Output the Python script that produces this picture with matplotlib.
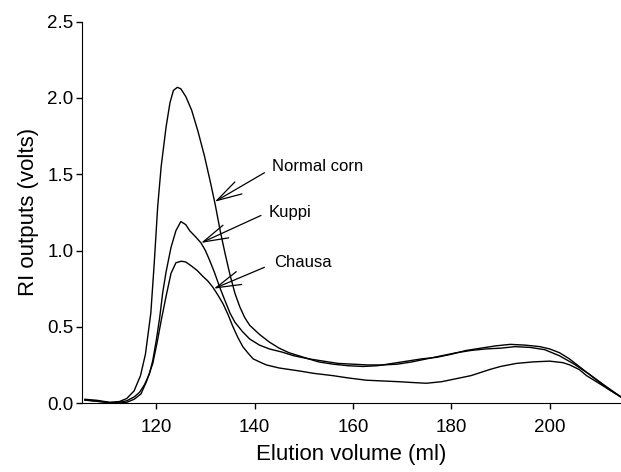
import matplotlib
matplotlib.use("Agg")
import matplotlib.pyplot as plt

plt.rcParams['font.family'] = ['Liberation Sans', 'DejaVu Sans']

# Normal corn
nc_x = [105.5, 108, 110.5, 112.5, 114, 115.5, 116.8, 117.8, 118.9, 119.6, 120.3, 121.0, 122.0, 122.8, 123.5,
        124.3, 125.0, 126.0, 127.2, 128.5, 129.8, 131.0, 132.0, 133.0, 134.0, 135.0, 136.0, 137.0, 138.0,
        139.0, 141.0, 143.0, 145.0, 147.0, 150.0, 153.0, 156.0, 159.0, 162.0, 165.0, 168.0, 171.0, 174.0,
        177.0, 180.0, 183.0, 186.0, 189.0, 192.0, 195.0, 198.0, 200.0, 202.0, 204.0, 206.0, 208.0, 210.0,
        212.0, 214.5]
nc_y = [0.025, 0.018, 0.005, 0.01, 0.03, 0.08, 0.18, 0.32, 0.59, 0.92, 1.29, 1.55, 1.81, 1.97, 2.05,
        2.07, 2.06, 2.01, 1.92, 1.78, 1.62, 1.45, 1.30, 1.13, 0.98, 0.84, 0.72, 0.63, 0.56,
        0.51, 0.45, 0.40, 0.36, 0.33, 0.30, 0.27, 0.255, 0.245, 0.24, 0.245, 0.26, 0.275, 0.29,
        0.30, 0.32, 0.345, 0.36, 0.375, 0.385, 0.38, 0.37, 0.355, 0.33, 0.29, 0.24, 0.19, 0.14,
        0.09, 0.04]

# Kuppi
kp_x = [105.5, 108, 110.5, 112.5, 114, 115.5, 116.6, 117.6, 118.6, 119.3, 120.0, 120.7, 121.3, 122.0,
        123.0, 124.0, 125.0, 126.0, 126.8, 128.0, 129.1, 130.0, 130.8, 131.8, 132.9, 134.0, 135.0, 136.0,
        137.5, 139.0, 141.0, 143.0, 145.5, 148.0, 151.0, 154.0, 157.0, 160.0, 163.0, 166.0, 169.0, 172.0,
        175.0, 178.0, 181.0, 184.0, 187.0, 190.0, 193.0, 196.0, 199.0, 202.0, 205.0, 208.0, 211.0, 214.5]
kp_y = [0.02, 0.012, 0.003, 0.005, 0.015, 0.04, 0.07, 0.12, 0.19, 0.28, 0.41, 0.56, 0.72, 0.86,
        1.02, 1.13, 1.19, 1.17, 1.13, 1.09, 1.05, 1.00, 0.94, 0.86, 0.76, 0.67, 0.59, 0.53,
        0.47, 0.42, 0.38, 0.355, 0.335, 0.31, 0.29, 0.275, 0.26, 0.255, 0.25, 0.25, 0.255, 0.27,
        0.29, 0.31, 0.33, 0.345, 0.355, 0.36, 0.37, 0.365, 0.35, 0.31, 0.255, 0.19, 0.12, 0.04]

# Chausa
ch_x = [105.5, 108, 110.5, 112.5, 114, 115.5, 116.9, 118.0, 119.3, 120.2, 121.0, 122.0, 123.0, 124.0,
        125.1, 126.0, 127.1, 128.3, 129.5, 130.5, 131.5, 132.5, 133.6, 134.6, 135.6, 136.6, 137.6, 138.6,
        139.7, 141.0, 142.4, 145.0, 149.2, 152.0, 155.9, 159.0, 162.7, 166.0, 169.5, 172.0, 174.9, 178.0,
        181.0, 184.0, 187.8, 190.0, 193.2, 196.6, 200.0, 202.7, 204.1, 206.0, 207.5, 209.5, 212.0, 214.5]
ch_y = [0.02, 0.012, 0.003, 0.0, 0.005, 0.025, 0.06, 0.14, 0.26, 0.40, 0.54, 0.70, 0.85, 0.92,
        0.93, 0.925, 0.90, 0.87, 0.83, 0.80, 0.76, 0.71, 0.65, 0.58, 0.50, 0.43, 0.37, 0.33,
        0.29, 0.27, 0.25, 0.23, 0.21, 0.195, 0.18, 0.165, 0.15, 0.145, 0.14, 0.135, 0.13, 0.14,
        0.16, 0.18, 0.22, 0.24, 0.26, 0.27, 0.275, 0.265, 0.25, 0.22, 0.18, 0.14, 0.09, 0.04]

labels = ["Normal corn", "Kuppi", "Chausa"]
tips = [(131.9, 1.32), (129.1, 1.05), (131.7, 0.75)]
tails = [(142.0, 1.51), (141.3, 1.23), (142.0, 0.89)]
text_pos = [(143.6, 1.55), (142.8, 1.25), (143.9, 0.92)]

fig = plt.figure(figsize=(6.21, 4.72), dpi=100)
ax = fig.add_axes([0.132, 0.146, 0.868, 0.808])

for xs, ys in [(nc_x, nc_y), (kp_x, kp_y), (ch_x, ch_y)]:
    ax.plot(xs, ys, '-', color="black", linewidth=1.0)

for lab, tip, tail, tp in zip(labels, tips, tails, text_pos):
    ax.annotate("", xy=tip, xytext=tail,
                arrowprops=dict(arrowstyle="->,head_length=1.8,head_width=0.5",
                                color="black", lw=0.9, mutation_scale=10,
                                shrinkA=0, shrinkB=0))
    ax.text(tp[0], tp[1], lab, fontsize=12, va="center", ha="left")

ax.set_xlim(104.9, 214.5)
ax.set_ylim(0, 2.5)
ax.set_xticks([120, 140, 160, 180, 200])
ax.set_yticks([0.0, 0.5, 1.0, 1.5, 2.0, 2.5])
ax.set_yticklabels(["0.0", "0.5", "1.0", "1.5", "2.0", "2.5"])
ax.spines['top'].set_visible(False)
ax.spines['right'].set_visible(False)
ax.tick_params(direction="out", length=4.5, width=1, labelsize=13.5)
ax.tick_params(axis="x", pad=7)
ax.tick_params(axis="y", pad=1.5)
ax.set_xlabel("Elution volume (ml)", fontsize=16, labelpad=6)
ax.set_ylabel("RI outputs (volts)", fontsize=16, labelpad=6)

fig.savefig("out.png", dpi=100)
plt.close(fig)
